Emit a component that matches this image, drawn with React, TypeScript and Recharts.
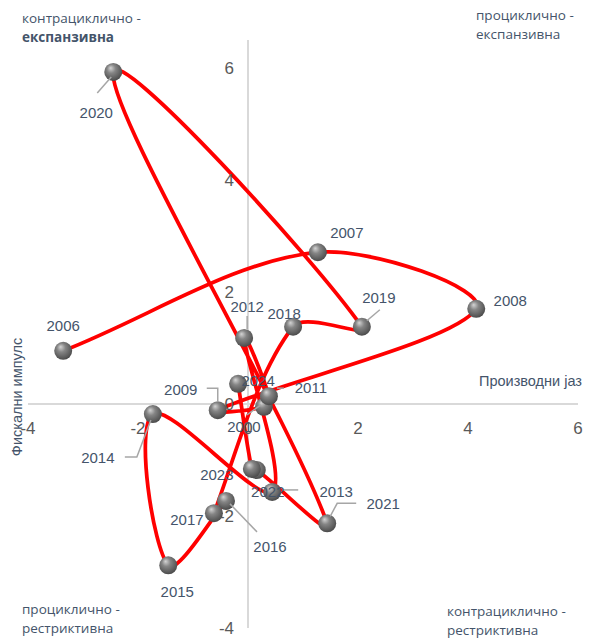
import { ReferenceLine, Scatter, ScatterChart, XAxis, YAxis } from "recharts";

// output gap (x) vs fiscal impulse (y), one point per year
const years = [2006, 2007, 2008, 2009, 2010, 2011, 2012, 2013, 2014, 2015, 2016, 2017, 2018, 2019, 2020, 2021, 2022, 2023, 2024];
const outputGap = [-3.36, 1.27, 4.15, -0.55, 0.29, 0.38, -0.07, 0.44, -1.73, -1.45, -0.4, -0.62, 0.82, 2.07, -2.45, 1.44, 0.16, 0.07, -0.18];
const fiscalImpulse = [0.95, 2.71, 1.7, -0.11, -0.05, 0.14, 1.18, -1.57, -0.18, -2.88, -1.73, -1.95, 1.38, 1.38, 5.93, -2.13, -1.18, -1.16, 0.36];
const xTicks = [-4, -2, 0, 2, 4, 6];
const yTicks = [-4, -2, 0, 2, 4, 6];

const points = years.map((year, i) => ({ year, x: outputGap[i], y: fiscalImpulse[i] }));

const W = 593;
const H = 641;
// axes take 1px each (a zero-size axis draws no ticks)
const MARGIN = { top: 40, right: 15, bottom: 12, left: 27 };
const AXIS_SIZE = 1;
const X_DOMAIN: [number, number] = [-4, 6];
const Y_DOMAIN: [number, number] = [-4, 6.5];
const PLOT_LEFT = MARGIN.left + AXIS_SIZE;
const PLOT_W = W - PLOT_LEFT - MARGIN.right;
const PLOT_H = H - MARGIN.top - MARGIN.bottom - AXIS_SIZE;
// where the axes cross (value 0 on both)
const ZERO_X = PLOT_LEFT + (PLOT_W * (0 - X_DOMAIN[0])) / (X_DOMAIN[1] - X_DOMAIN[0]);
const ZERO_Y = MARGIN.top + (PLOT_H * Y_DOMAIN[1]) / (Y_DOMAIN[1] - Y_DOMAIN[0]);

const TEXT = "#44546A";
const TICK = "#595959";
const AXIS = "#D9D9D9";
const LEADER = "#A6A6A6";
const LABEL_FONT = "'Liberation Sans', Arial, sans-serif";
const NOTE_FONT = "'Open Sans', 'Liberation Sans', sans-serif";

// label placement relative to each point (label centre + optional leader line)
const labelLayout: Record<number, { dx: number; dy: number; leader?: number[][] }> = {
  2006: { dx: 0, dy: -25 },
  2007: { dx: 29, dy: -20 },
  2008: { dx: 34, dy: -8 },
  2009: { dx: -37, dy: -21, leader: [[-11, -22], [0, -22], [0, -9]] },
  2010: { dx: -20, dy: 20, leader: [[-17, 8], [-3, -2]] },
  2011: { dx: 42, dy: -9, leader: [[8, -8], [15, -8]] },
  2012: { dx: 3, dy: -31, leader: [[3, -22], [3, -9]] },
  2013: { dx: 64, dy: 0, leader: [[10, -2], [26, -2]] },
  2014: { dx: -55, dy: 43, leader: [[-28, 43], [-16, 43], [-2, 6]] },
  2015: { dx: 9, dy: 26 },
  2016: { dx: 44, dy: 46, leader: [[4, 3], [31, 31]] },
  2017: { dx: -27, dy: 6 },
  2018: { dx: -9, dy: -13 },
  2019: { dx: 17, dy: -29, leader: [[18, -17], [5, -6]] },
  2020: { dx: -17, dy: 41, leader: [[-16, 21], [-2, 5]] },
  2021: { dx: 56, dy: -20, leader: [[29, -20], [10, -20], [3, -7]] },
  2022: { dx: 11, dy: 21 },
  2023: { dx: -35, dy: 6 },
  2024: { dx: 20, dy: -3 },
};

type Pt = { x: number; y: number };

const dist = (a: Pt, b: Pt) => Math.hypot(b.x - a.x, b.y - a.y);

// smoothed line in the way spreadsheet charts do it (bezier through every point)
function smoothPath(pts: Pt[]) {
  if (!pts || pts.length === 0) return "";
  let d = `M${pts[0].x},${pts[0].y}`;
  for (let i = 0; i < pts.length - 1; i++) {
    const p0 = pts[i - 1] ?? pts[i];
    const p1 = pts[i];
    const p2 = pts[i + 1];
    const p3 = pts[i + 2] ?? p2;
    const d01 = dist(p0, p1);
    const d12 = dist(p1, p2);
    const d23 = dist(p2, p3);
    const f1 = d01 + d12 > 0 ? (2 * d12) / (d01 + d12) / 6 : 0;
    const f2 = d12 + d23 > 0 ? (2 * d12) / (d12 + d23) / 6 : 0;
    const c1x = p1.x + (p2.x - p0.x) * f1;
    const c1y = p1.y + (p2.y - p0.y) * f1;
    const c2x = p2.x - (p3.x - p1.x) * f2;
    const c2y = p2.y - (p3.y - p1.y) * f2;
    d += ` C${c1x},${c1y} ${c2x},${c2y} ${p2.x},${p2.y}`;
  }
  return d;
}

function SmoothLine(props: any) {
  return (
    <path
      d={smoothPath(props.points)}
      fill="none"
      stroke="#FF0000"
      strokeWidth={3.75}
      strokeLinejoin="round"
      strokeLinecap="round"
    />
  );
}

function Sphere(props: any) {
  const { cx, cy } = props;
  if (cx == null || cy == null) return <g />;
  return <circle cx={cx} cy={cy} r={9} fill="url(#sphereFill)" />;
}

function YearLabel(props: any) {
  const { cx, cy, payload } = props;
  if (cx == null || cy == null || !payload) return <g />;
  const layout = labelLayout[payload.year] ?? { dx: 22, dy: 0 };
  return (
    <g>
      {layout.leader && (
        <polyline
          points={layout.leader.map(([lx, ly]) => `${cx + lx},${cy + ly}`).join(" ")}
          fill="none"
          stroke={LEADER}
          strokeWidth={1.5}
        />
      )}
      <text
        x={cx + layout.dx}
        y={cy + layout.dy}
        textAnchor="middle"
        dominantBaseline="central"
        fill={TEXT}
        fontSize={15}
        fontFamily={LABEL_FONT}
      >
        {payload.year}
      </text>
    </g>
  );
}

function XTick(props: any) {
  const { x, payload } = props;
  return (
    <text x={x} y={ZERO_Y + 24} textAnchor="middle" dominantBaseline="central" fill={TICK} fontSize={17} fontFamily={LABEL_FONT}>
      {payload.value}
    </text>
  );
}

function YTick(props: any) {
  const { y, payload } = props;
  return (
    <text x={ZERO_X - 14} y={y} textAnchor="end" dominantBaseline="central" fill={TICK} fontSize={17} fontFamily={LABEL_FONT}>
      {payload.value}
    </text>
  );
}

function Note({ x, y, lines, bold }: { x: number; y: number; lines: string[]; bold?: boolean }) {
  return (
    <text x={x} y={y} fill={TEXT} fontSize={13.5} fontFamily={NOTE_FONT}>
      {lines.map((line, i) => (
        <tspan key={i} x={x} dy={i === 0 ? 0 : 18.5} fontWeight={bold && i === 1 ? 700 : 400}>
          {line}
        </tspan>
      ))}
    </text>
  );
}

export default function App() {
  return (
    <div style={{ position: "absolute", left: 0, top: 0, width: W, height: H, background: "#fff" }}>
      <svg width={0} height={0} style={{ position: "absolute" }}>
        <defs>
          <radialGradient id="sphereFill" cx="45%" cy="40%" r="60%" fx="35%" fy="28%">
            <stop offset="0%" stopColor="#d4d4d4" />
            <stop offset="40%" stopColor="#858585" />
            <stop offset="85%" stopColor="#5a5a5a" />
            <stop offset="100%" stopColor="#4a4a4a" />
          </radialGradient>
        </defs>
      </svg>
      <ScatterChart width={W} height={H} margin={MARGIN}>
        <XAxis
          type="number"
          dataKey="x"
          domain={X_DOMAIN}
          ticks={xTicks}
          interval={0}
          allowDataOverflow
          axisLine={false}
          tickLine={false}
          height={AXIS_SIZE}
          tick={<XTick />}
        />
        <YAxis
          type="number"
          dataKey="y"
          domain={Y_DOMAIN}
          ticks={yTicks}
          interval={0}
          allowDataOverflow
          axisLine={false}
          tickLine={false}
          width={AXIS_SIZE}
          tick={<YTick />}
        />
        <ReferenceLine x={0} stroke={AXIS} strokeWidth={2} />
        <ReferenceLine y={0} stroke={AXIS} strokeWidth={2} />
        <Scatter
          data={points}
          line={(p: any) => <SmoothLine {...p} />}
          lineType="joint"
          shape={Sphere}
          isAnimationActive={false}
        />
        <Scatter data={points} shape={YearLabel} isAnimationActive={false} />
      </ScatterChart>
      <svg width={W} height={H} style={{ position: "absolute", left: 0, top: 0, pointerEvents: "none" }}>
        <Note x={22} y={23} lines={["контрациклично -", "експанзивна"]} bold />
        <Note x={476} y={20} lines={["проциклично -", "експанзивна"]} />
        <Note x={22} y={614} lines={["проциклично -", "рестриктивна"]} />
        <Note x={447} y={616} lines={["контрациклично -", "рестриктивна"]} />
        <text x={479} y={386} fill={TEXT} fontSize={14.5} fontFamily={LABEL_FONT}>
          Производни јаз
        </text>
        <text
          x={17}
          y={397}
          transform="rotate(-90 17 397)"
          textAnchor="middle"
          dominantBaseline="central"
          fill={TEXT}
          fontSize={14.5}
          fontFamily={LABEL_FONT}
        >
          Фискални импулс
        </text>
      </svg>
    </div>
  );
}
